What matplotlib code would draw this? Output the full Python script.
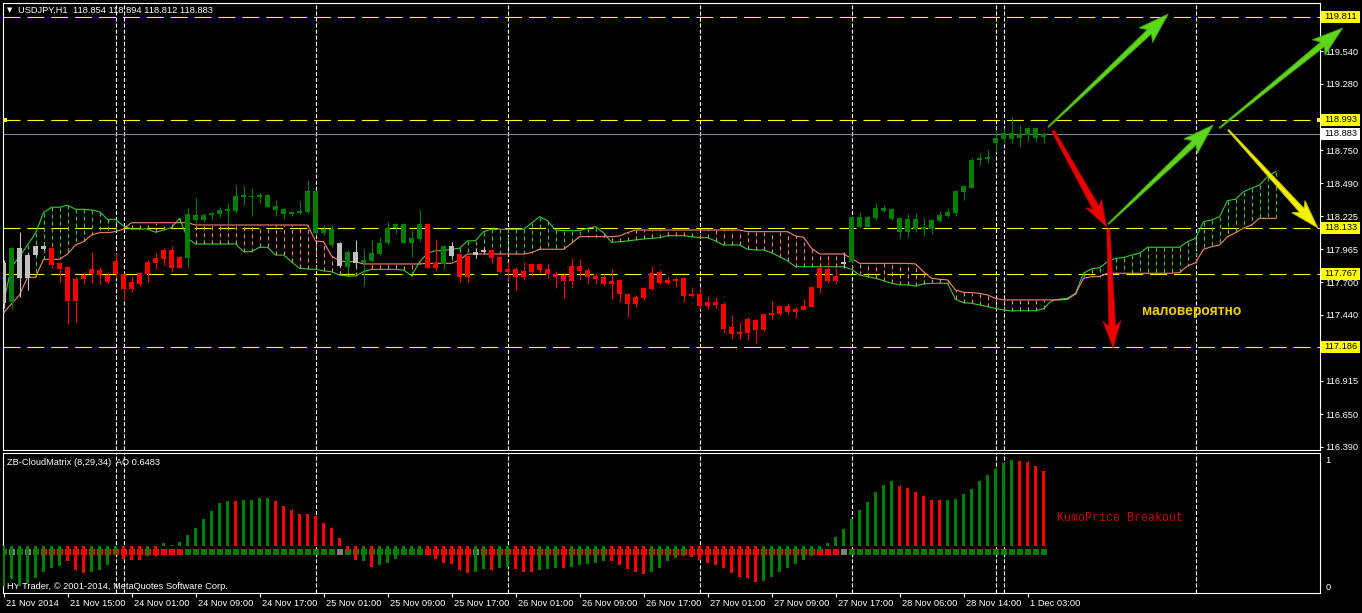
import numpy as np
import matplotlib.pyplot as plt
from matplotlib.patches import Rectangle, Polygon
from matplotlib.transforms import IdentityTransform, offset_copy, blended_transform_factory

plt.rcParams['lines.scale_dashes'] = False
plt.rcParams['font.family'] = ['Liberation Sans', 'DejaVu Sans']

# ---------------- data (USDJPY H1) ----------------
opens = [117.533, 117.546, 117.732, 117.732, 117.917, 117.965, 117.971, 117.851, 117.819, 117.727,
         117.758, 117.804, 117.798, 117.758, 117.870, 117.766, 117.700, 117.772, 117.864, 117.896,
         117.957, 117.957, 117.899, 117.896, 118.196, 118.196, 118.233, 118.244, 118.270, 118.270,
         118.381, 118.376, 118.381, 118.302, 118.275, 118.241, 118.241, 118.249, 118.262, 118.095,
         118.095, 117.997, 118.010, 117.824, 117.944, 117.851, 117.870, 117.926, 118.010, 118.135,
         118.015, 118.015, 118.042, 118.164, 117.856, 117.843, 117.989, 117.925, 117.910, 117.917,
         117.957, 117.957, 117.899, 117.806, 117.806, 117.790, 117.846, 117.846, 117.806, 117.764,
         117.758, 117.830, 117.830, 117.798, 117.750, 117.742, 117.711, 117.719, 117.607, 117.583,
         117.655, 117.774, 117.782, 117.719, 117.727, 117.735, 117.607, 117.607, 117.544, 117.544,
         117.528, 117.345, 117.305, 117.408, 117.400, 117.448, 117.456, 117.512, 117.512, 117.488,
         117.512, 117.663, 117.814, 117.806, 117.750, 117.864, 117.864, 118.138, 118.138, 118.214,
         118.267, 118.201, 118.103, 118.103, 118.122, 118.124, 118.124, 118.188, 118.228, 118.254,
         118.421, 118.453, 118.673, 118.681, 118.811, 118.840, 118.840, 118.846, 118.872, 118.851,
         118.854]
highs = [117.878, 117.983, 118.103, 117.931, 117.997, 117.997, 117.983, 117.864, 117.830, 117.745,
         117.784, 117.944, 117.819, 117.784, 117.931, 117.777, 117.745, 117.784, 117.878, 117.931,
         117.971, 117.989, 117.910, 118.289, 118.368, 118.254, 118.262, 118.302, 118.333, 118.474,
         118.466, 118.448, 118.408, 118.403, 118.355, 118.289, 118.270, 118.350, 118.514, 118.434,
         118.156, 118.156, 118.023, 117.957, 118.037, 117.962, 118.037, 118.063, 118.183, 118.175,
         118.170, 118.116, 118.275, 118.175, 118.042, 117.997, 118.018, 117.931, 117.917, 117.971,
         117.983, 117.962, 117.904, 117.864, 117.825, 117.864, 117.856, 117.851, 117.851, 117.790,
         117.772, 117.891, 117.883, 117.811, 117.772, 117.764, 117.806, 117.727, 117.613, 117.599,
         117.665, 117.830, 117.798, 117.740, 117.740, 117.740, 117.665, 117.665, 117.594, 117.586,
         117.546, 117.440, 117.382, 117.427, 117.406, 117.454, 117.551, 117.520, 117.538, 117.506,
         117.568, 117.671, 117.819, 117.878, 117.811, 117.944, 118.228, 118.262, 118.228, 118.329,
         118.315, 118.289, 118.222, 118.241, 118.249, 118.209, 118.201, 118.267, 118.289, 118.434,
         118.474, 118.687, 118.731, 118.753, 118.912, 118.925, 119.013, 118.952, 118.933, 118.933,
         118.894]
lows = [117.493, 117.485, 117.586, 117.639, 117.910, 117.957, 117.811, 117.705, 117.368, 117.387,
        117.687, 117.692, 117.687, 117.697, 117.732, 117.565, 117.626, 117.671, 117.705, 117.804,
        117.838, 117.784, 117.811, 117.811, 118.170, 118.183, 118.196, 118.217, 118.170, 118.249,
        118.315, 118.230, 118.328, 118.297, 118.228, 118.201, 118.228, 118.244, 118.254, 118.077,
        118.077, 117.983, 117.824, 117.772, 117.811, 117.671, 117.864, 117.917, 117.997, 118.090,
        118.010, 117.904, 118.031, 117.811, 117.792, 117.804, 117.899, 117.705, 117.705, 117.891,
        117.936, 117.856, 117.777, 117.719, 117.639, 117.719, 117.745, 117.777, 117.737, 117.657,
        117.578, 117.657, 117.719, 117.687, 117.687, 117.671, 117.568, 117.541, 117.424, 117.504,
        117.560, 117.639, 117.687, 117.687, 117.665, 117.546, 117.586, 117.488, 117.488, 117.488,
        117.299, 117.252, 117.252, 117.241, 117.220, 117.315, 117.406, 117.440, 117.448, 117.414,
        117.480, 117.501, 117.618, 117.697, 117.687, 117.814, 117.856, 118.130, 118.130, 118.196,
        118.262, 118.196, 118.055, 118.058, 118.103, 118.069, 118.085, 118.183, 118.222, 118.228,
        118.355, 118.448, 118.633, 118.652, 118.739, 118.806, 118.806, 118.774, 118.827, 118.819,
        118.812]
closes = [117.851, 117.971, 117.971, 117.917, 117.989, 117.989, 117.838, 117.806, 117.554, 117.554,
          117.724, 117.764, 117.758, 117.705, 117.766, 117.647, 117.647, 117.687, 117.764, 117.856,
          117.886, 117.816, 117.816, 118.244, 118.236, 118.236, 118.254, 118.275, 118.283, 118.387,
          118.395, 118.381, 118.395, 118.395, 118.307, 118.283, 118.257, 118.267, 118.426, 118.426,
          118.122, 118.122, 117.832, 117.944, 117.851, 117.878, 117.936, 118.015, 118.130, 118.164,
          118.164, 118.050, 118.164, 117.816, 117.816, 117.989, 117.910, 117.745, 117.745, 117.944,
          117.944, 117.896, 117.784, 117.784, 117.745, 117.745, 117.784, 117.798, 117.764, 117.745,
          117.713, 117.713, 117.790, 117.745, 117.727, 117.687, 117.687, 117.610, 117.530, 117.530,
          117.575, 117.647, 117.697, 117.697, 117.713, 117.594, 117.594, 117.514, 117.514, 117.520,
          117.329, 117.289, 117.289, 117.299, 117.321, 117.321, 117.440, 117.448, 117.464, 117.464,
          117.480, 117.504, 117.657, 117.711, 117.711, 117.846, 118.222, 118.222, 118.222, 118.294,
          118.294, 118.281, 118.214, 118.204, 118.204, 118.140, 118.196, 118.236, 118.260, 118.429,
          118.466, 118.673, 118.687, 118.700, 118.846, 118.885, 118.885, 118.880, 118.925, 118.925,
          118.883]
candle_colors = ("sgssssrrrr" "rrrrrrrrrr" "rrrggggggg" "gggggggggg" "ggsgsggggg"
                 "gggrrgsrrs" "srrrrrrrrr" "rrrrrrrrrr" "rrrrrrrrrr" "rrrrrrrrrr"
                 "rrrrrsgggg" "gggggggggg" "gggggggggg" "g")

# Kumo lines (already shifted forward)
span_a = [117.536, 117.824, 117.904, 117.997, 118.090, 118.254, 118.297, 118.297, 118.313, 118.281,
          118.281, 118.275, 118.262, 118.201, 118.201, 118.148, 118.124, 118.124, 118.124, 118.098,
          118.116, 118.135, 118.209, 118.050, 118.005, 118.005, 118.005, 118.005, 118.005, 118.005,
          117.944, 117.944, 117.979, 117.979, 117.917, 117.917, 117.864, 117.811, 117.806, 117.803,
          117.792, 117.784, 117.758, 117.750, 117.750, 117.784, 117.803, 117.803, 117.803, 117.803,
          117.798, 117.752, 117.862, 117.931, 117.952, 117.952, 117.963, 117.971, 118.029, 118.031,
          118.103, 118.122, 118.122, 118.122, 118.122, 118.122, 118.170, 118.222, 118.190, 118.116,
          118.111, 118.111, 118.111, 118.130, 118.143, 118.095, 118.018, 118.023, 118.029, 118.037,
          118.045, 118.050, 118.055, 118.071, 118.071, 118.071, 118.063, 118.055, 118.055, 118.029,
          117.997, 117.997, 117.997, 117.963, 117.957, 117.957, 117.936, 117.904, 117.870, 117.824,
          117.824, 117.824, 117.824, 117.824, 117.824, 117.824, 117.803, 117.758, 117.745, 117.732,
          117.713, 117.692, 117.681, 117.679, 117.671, 117.687, 117.692, 117.692, 117.692, 117.565,
          117.538, 117.533, 117.520, 117.506, 117.493, 117.480, 117.472, 117.474, 117.474, 117.474,
          117.490, 117.554, 117.567, 117.573, 117.613, 117.772, 117.808, 117.816, 117.864, 117.891,
          117.896, 117.917, 117.931, 117.979, 117.979, 117.979, 117.979, 117.979, 118.023, 118.050,
          118.182, 118.196, 118.222, 118.350, 118.361, 118.421, 118.448, 118.474, 118.540, 118.580]
span_b = [117.458, 117.528, 117.599, 117.740, 117.740, 117.883, 117.883, 117.883, 117.925, 117.997,
          118.023, 118.077, 118.095, 118.095, 118.103, 118.124, 118.174, 118.174, 118.174, 118.174,
          118.174, 118.174, 118.174, 118.174, 118.156, 118.156, 118.156, 118.156, 118.156, 118.156,
          118.156, 118.156, 118.156, 118.156, 118.156, 118.156, 118.156, 118.156, 118.156, 118.029,
          118.023, 117.910, 117.870, 117.864, 117.864, 117.846, 117.846, 117.846, 117.846, 117.846,
          117.846, 117.846, 117.846, 117.851, 117.851, 117.851, 117.851, 117.878, 117.925, 117.925,
          117.925, 117.925, 117.925, 117.925, 117.925, 117.925, 117.936, 117.963, 117.963, 117.963,
          117.963, 118.010, 118.063, 118.063, 118.063, 118.063, 118.063, 118.069, 118.095, 118.116,
          118.116, 118.116, 118.116, 118.116, 118.116, 118.116, 118.116, 118.116, 118.116, 118.116,
          118.116, 118.116, 118.116, 118.103, 118.103, 118.103, 118.103, 118.103, 118.103, 118.069,
          118.058, 117.971, 117.925, 117.925, 117.925, 117.925, 117.891, 117.851, 117.851, 117.851,
          117.851, 117.851, 117.851, 117.851, 117.846, 117.784, 117.732, 117.724, 117.719, 117.639,
          117.621, 117.618, 117.613, 117.599, 117.573, 117.560, 117.560, 117.560, 117.560, 117.560,
          117.560, 117.560, 117.560, 117.565, 117.607, 117.732, 117.745, 117.745, 117.772, 117.772,
          117.772, 117.772, 117.772, 117.772, 117.772, 117.772, 117.772, 117.777, 117.830, 117.856,
          117.963, 117.983, 117.997, 118.063, 118.095, 118.130, 118.156, 118.209, 118.209, 118.209]

# ZB-CloudMatrix histogram (0..1 window)
hist_base = 0.326
hist = [-0.31, -0.26, -0.31, -0.29, -0.25, -0.20, -0.17, -0.155, -0.12, -0.19,
        -0.21, -0.20, -0.19, -0.15, -0.07, -0.10, -0.11, -0.11, -0.08, -0.075,
        0.02, 0.01, 0.034, 0.085, 0.14, 0.21, 0.27, 0.33, 0.35, 0.35,
        0.355, 0.355, 0.375, 0.375, 0.35, 0.31, 0.28, 0.25, 0.25, 0.23,
        0.18, 0.14, 0.065, -0.044, -0.11, -0.116, -0.16, -0.15, -0.13, -0.10,
        -0.07, -0.057, -0.07, -0.065, -0.10, -0.13, -0.14, -0.19, -0.21, -0.20,
        -0.18, -0.19, -0.17, -0.16, -0.175, -0.20, -0.20, -0.19, -0.175, -0.17,
        -0.17, -0.16, -0.145, -0.137, -0.13, -0.114, -0.12, -0.145, -0.175, -0.20,
        -0.215, -0.20, -0.17, -0.12, -0.09, -0.075, -0.083, -0.106, -0.13, -0.145,
        -0.17, -0.21, -0.24, -0.25, -0.28, -0.27, -0.24, -0.20, -0.17, -0.137,
        -0.106, -0.075, -0.036, 0.023, 0.07, 0.13, 0.21, 0.28, 0.34, 0.42,
        0.47, 0.50, 0.465, 0.45, 0.42, 0.39, 0.36, 0.36, 0.36, 0.365,
        0.40, 0.44, 0.50, 0.55, 0.60, 0.64, 0.67, 0.66, 0.65, 0.62,
        0.58]
hist_colors = ("ggggggggrr" "rggggrrrgr" "gggggggggr" "ggggrrrrrr" "rrrrrgrggg"
               "gggrrrrrrg" "grggrrrggg" "rgggggrrrr" "rgggggrrrr" "rrrrrggggg"
               "gggggggggg" "ggrrrrrrgg" "gggggggrrr" "r")
marker_level = 0.279
marker_colors = ("gsgsgrrrrr" "rrrrrrrrrr" "rrrggggggg" "gggggggggg" "ggsggggggg"
                 "gggrrrrrrs" "rrrrrrrrrr" "rrrrrrrrrr" "rrrrrrrrrr" "rrrrrrrrrr"
                 "rrrrrsgggg" "gggggggggg" "gggggggggg" "g")

levels = [119.811, 118.993, 118.133, 117.767, 117.186]
last_price = 118.883
separators = [14, 15, 39, 63, 87, 106, 124, 125, 149]
price_ticks = [119.540, 119.280, 119.015, 118.750, 118.490, 118.225, 117.965,
               117.700, 117.440, 117.175, 116.915, 116.650, 116.390]
date_pos = [0, 8, 16, 24, 32, 40, 48, 56, 64, 72, 80, 88, 96, 104, 112, 120, 128]
date_labels = ["21 Nov 2014", "21 Nov 15:00", "24 Nov 01:00", "24 Nov 09:00", "24 Nov 17:00",
               "25 Nov 01:00", "25 Nov 09:00", "25 Nov 17:00", "26 Nov 01:00", "26 Nov 09:00",
               "26 Nov 17:00", "27 Nov 01:00", "27 Nov 09:00", "27 Nov 17:00", "28 Nov 06:00",
               "28 Nov 14:00", "1 Dec 03:00"]
# drawn arrows: (bar0, price0, bar1, price1, kind)
arrows = [(130.6, 118.936, 145.6, 119.835, 'g'),
          (131.2, 118.904, 137.9, 118.140, 'r'),
          (138.1, 118.164, 151.2, 118.952, 'g'),
          (138.1, 118.124, 138.7, 117.178, 'r'),
          (152.0, 118.928, 167.4, 119.723, 'g'),
          (153.1, 118.912, 164.3, 118.132, 'y')]

# ---------------- figure ----------------
W, H = 1362, 613
fig = plt.figure(figsize=(W / 100, H / 100), dpi=100, facecolor='black')


def box(x0, y0, x1, y1):
    return [x0 / W, 1 - y1 / H, (x1 - x0) / W, (y1 - y0) / H]


ax = fig.add_axes(box(3, 3, 1320, 450))
sub = fig.add_axes(box(3, 453, 1320, 593))
for a in (ax, sub):
    a.set_facecolor('black')
    a.set_xlim(-0.0625, 164.5625)
    for s in a.spines.values():
        s.set_color('white')
        s.set_linewidth(0.8)
ax.set_ylim(116.366, 119.922)
sub.set_ylim(-0.0388, 1.0465)

CC = {'g': '#008000', 'r': '#ff0000', 's': '#c0c0c0'}
MC = {'g': '#008000', 'r': '#ff0000', 's': '#808080'}

# separators
for a in (ax, sub):
    for v in separators:
        a.axvline(v, color='white', lw=0.8, dashes=(2.9, 1.45), zorder=1)

# levels
for lv in levels:
    ax.axhline(lv, color='#ffff00', lw=0.8, dashes=(12.2, 5.0), zorder=2)
ax.axhline(last_price, color='#778899', lw=0.8, zorder=2)

# kumo hatch + lines
xc = np.arange(len(span_a))
for i in xc:
    a_, b_ = span_a[i], span_b[i]
    col = '#32cd32' if a_ >= b_ else '#fa8072'
    ax.plot([i, i], [a_, b_], color=col, lw=0.8, dashes=(2.9, 2.2), zorder=2)
ax.plot(xc, span_a, color='#32cd32', lw=0.8, zorder=3)
ax.plot(xc, span_b, color='#fa8072', lw=0.8, zorder=3)

# candles
o, h, l, c = map(np.array, (opens, highs, lows, closes))
x = np.arange(len(o))
cols = [CC[k] for k in candle_colors]
ax.vlines(x, l, h, colors=cols, lw=0.8, zorder=4)
ax.bar(x, np.maximum(np.abs(c - o), 0.01), bottom=np.minimum(o, c), width=0.56,
       color=cols, linewidth=0, zorder=5)

# right price scale
ax.yaxis.tick_right()
ax.set_yticks(price_ticks)
ax.set_yticklabels([f'{v:.3f}' for v in price_ticks])
ax.tick_params(axis='y', colors='white', labelsize=6.7, length=2.2, width=0.8, pad=1.5)
ax.tick_params(axis='x', bottom=False, labelbottom=False)
yt = ax.get_yaxis_transform()
for lv in levels + [last_price]:
    fc = 'white' if lv == last_price else '#ffff00'
    ax.add_patch(Rectangle((1.0008, lv - 0.047), 0.0296, 0.094, transform=yt,
                           facecolor=fc, edgecolor='none', clip_on=False, zorder=10))
    ax.text(1.0032, lv, f'{lv:.3f}', transform=yt, color='black', fontsize=6.7,
            va='center', ha='left', zorder=11, clip_on=False)
for xa in (0.0, 0.9975):
    ax.add_patch(Rectangle((xa, levels[1] - 0.016), 0.0028, 0.032, transform=yt,
                           facecolor='#ffff00', edgecolor='none', clip_on=False, zorder=9))

# indicator window
sub.bar(x, 0.0465, bottom=marker_level - 0.023, width=0.75,
        color=[MC[k] for k in marker_colors], linewidth=0, zorder=3)
sub.bar(x, hist, bottom=hist_base, width=0.38,
        color=[CC[k] for k in hist_colors], linewidth=0, zorder=4)
sub.set_yticks([])
sub.set_xticks(date_pos)
sub.tick_params(axis='x', colors='white', length=2.9, width=0.8, labelbottom=False)
sty = sub.get_yaxis_transform()
sub.text(1.004, 0.99, '1', transform=sty, color='white', fontsize=6.7, va='center')
sub.text(1.004, 0.0, '0', transform=sty, color='white', fontsize=6.7, va='center')
sub.text(0.003, 0.935, 'ZB-CloudMatrix (8,29,34)  AO 0.6483', transform=sub.transAxes,
         color='white', fontsize=6.7, va='center')
sub.text(0.003, 0.045, 'HY Trader, \u00a9 2001-2014, MetaQuotes Software Corp.',
         transform=sub.transAxes, color='white', fontsize=6.7, va='center')
sub.text(131.7, 0.543, 'KumoPrice Breakout', color='#cc0000', fontsize=8.4,
         family=['Liberation Mono', 'DejaVu Sans Mono'], va='center', ha='left')

xt = offset_copy(blended_transform_factory(sub.transData, sub.transAxes), fig=fig, x=2, y=0,
                 units='dots')
for p, lab in zip(date_pos, date_labels):
    sub.text(p, -0.078, lab, transform=xt, color='white', fontsize=6.7, va='center',
             ha='left', clip_on=False)

# header
fig.text(7 / W, 1 - 10 / H, '\u25bc', color='white', fontsize=5, va='center',
         family=['DejaVu Sans'])
fig.text(18 / W, 1 - 10 / H, 'USDJPY,H1  118.854 118.894 118.812 118.883', color='white',
         fontsize=6.7, va='center')

ax.text(142.3, 117.472, 'маловероятно', color='#f0d000', fontsize=10, fontweight='bold',
        va='center', ha='left', zorder=12)

# hand-drawn arrows
AC = {'g': ('#5fd61e', '#3fa010'), 'r': ('#ee0000', '#b00000'), 'y': ('#f0f000', '#b8b800')}
SHAPE = {'g': (1.2, 6.0, 20.0, 26.0), 'r': (3.0, 7.0, 18.0, 22.0), 'y': (1.5, 6.0, 18.0, 24.0)}


def fat_arrow(x0, y0, x1, y1, kind):
    p0 = ax.transData.transform((x0, y0))
    p1 = ax.transData.transform((x1, y1))
    d = (p1 - p0) / np.hypot(*(p1 - p0))
    n = np.array([-d[1], d[0]])
    tail, base, hw, hl = SHAPE[kind]
    b = p1 - d * hl
    pts = [p0 + n * tail / 2, b + n * base / 2, b - d * 5 + n * hw / 2, p1,
           b - d * 5 - n * hw / 2, b - n * base / 2, p0 - n * tail / 2]
    fc, ec = AC[kind]
    fig.add_artist(Polygon(pts, closed=True, transform=IdentityTransform(),
                           facecolor=fc, edgecolor=ec, lw=0.6, zorder=20))


for a0, b0, a1, b1, k in arrows:
    fat_arrow(a0, b0, a1, b1, k)

fig.savefig('out.png', dpi=100, facecolor='black')
